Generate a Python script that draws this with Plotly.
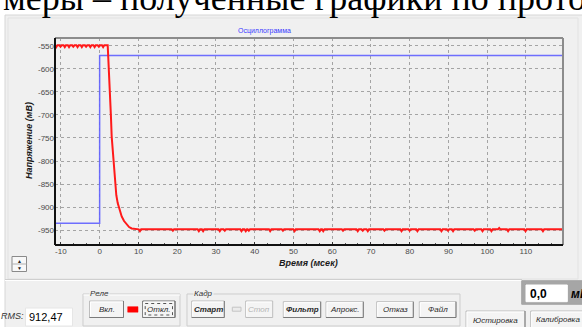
import plotly.graph_objects as go

# ---------------- data ----------------
x_ticks = [-10, 0, 10, 20, 30, 40, 50, 60, 70, 80, 90, 100, 110]
y_ticks = [-550, -600, -650, -700, -750, -800, -850, -900, -950]

blue_t = [-11.52, 0.0, 0.0, 119.57]
blue_v = [-935, -935, -571, -571]

red_pre_t = [-11.5, -11.2, -10.9, -10.4, -10.1, -9.8, -9.3, -9.0, -8.7, -8.2, -7.9, -7.6,
             -7.1, -6.8, -6.5, -6.0, -5.7, -5.4, -4.9, -4.6, -4.3, -3.8, -3.5, -3.2,
             -2.7, -2.4, -2.1, -1.6, -1.3, -1.0, -0.5, -0.2, 0.1, 0.6, 0.9, 1.2, 2.08]
red_pre_v = [-549, -553, -549, -549, -552, -549, -549, -553, -549, -549, -553, -549,
             -549, -552, -549, -549, -553, -549, -549, -553, -549, -549, -552, -549,
             -549, -553, -549, -549, -553, -549, -549, -552, -549, -549, -553, -549, -549]

red_fall_t = [2.35, 2.67, 2.9, 3.11, 3.52, 3.96, 4.3, 4.66, 5.1, 5.69, 6.3, 6.98, 7.6, 8.27, 9.1, 9.97]
red_fall_v = [-592, -646, -700, -747, -798, -848, -874, -891, -906, -920, -930, -938, -943, -946, -947, -948]

red_tail_t = [10.1, 10.4, 10.7, 18.6, 18.9, 19.2, 25.3, 25.6, 25.9, 26.4, 26.7, 27.0,
              30.7, 31.0, 31.3, 32.0, 32.3, 32.6, 36.3, 36.6, 36.9, 37.4, 37.7, 38.0,
              38.2, 38.5, 38.8, 43.7, 44.0, 44.3, 47.0, 47.3, 47.6, 50.0, 50.3, 50.6,
              56.5, 56.8, 57.1, 57.4, 57.7, 58.0, 62.5, 62.8, 63.1, 66.3, 66.6, 66.9,
              67.6, 67.9, 68.2, 68.9, 69.2, 69.5, 73.2, 73.5, 73.8, 77.6, 77.9, 78.2,
              79.7, 80.0, 80.3, 81.7, 82.0, 82.3, 87.9, 88.2, 88.5, 89.6, 89.9, 90.2,
              90.9, 91.2, 91.5, 96.5, 96.8, 97.1, 98.5, 98.8, 99.1, 100.8, 101.1, 101.4,
              102.8, 103.1, 103.4, 105.1, 105.4, 105.7, 109.6, 109.9, 110.2, 114.1, 114.4, 114.7,
              119.6]
red_tail_v = [-948, -952, -948, -948, -951, -948, -948, -952, -948, -948, -952, -948,
              -948, -952, -948, -948, -951, -948, -948, -952, -948, -948, -952, -948,
              -948, -951, -948, -948, -952, -948, -948, -951, -948, -948, -952, -948,
              -948, -952, -948, -948, -952, -948, -948, -951, -948, -948, -952, -948,
              -948, -951, -948, -948, -952, -948, -948, -951, -948, -948, -952, -948,
              -948, -951, -948, -948, -952, -948, -948, -952, -948, -948, -951, -948,
              -948, -952, -948, -948, -951, -948, -948, -952, -948, -948, -952, -948,
              -948, -945, -948, -948, -952, -948, -948, -952, -948, -948, -952, -948,
              -948]

red_t = red_pre_t + red_fall_t + red_tail_t
red_v = red_pre_v + red_fall_v + red_tail_v

# ---------------- geometry helpers (pixel -> paper) ----------------
W, H = 582, 327
L, R, T, B = 55, 563, 38, 245


def px(x):
    return (x - L) / (R - L)


def py(y):
    return (B - y) / (B - T)


shapes = []
annots = []


def rect(x0, y0, x1, y1, fill="rgba(0,0,0,0)", line="rgba(0,0,0,0)", lw=1, dash="solid", layer="above"):
    shapes.append(dict(type="rect", xref="paper", yref="paper",
                       x0=px(x0), x1=px(x1), y0=py(y0), y1=py(y1),
                       fillcolor=fill, line=dict(color=line, width=lw, dash=dash), layer=layer))


def seg(x0, y0, x1, y1, color, lw=1, layer="above"):
    shapes.append(dict(type="line", xref="paper", yref="paper",
                       x0=px(x0), x1=px(x1), y0=py(y0), y1=py(y1),
                       line=dict(color=color, width=lw), layer=layer))


def text(x, y, s, size=8, color="#333333", xanchor="center", bold=False, italic=False,
         family="Liberation Sans", angle=0, bg="rgba(0,0,0,0)"):
    annots.append(dict(x=px(x), y=py(y), xref="paper", yref="paper", text=s, showarrow=False,
                       xanchor=xanchor, yanchor="middle", textangle=angle, bgcolor=bg, borderpad=0,
                       font=dict(size=size, color=color, family=family,
                                 weight="bold" if bold else "normal",
                                 style="italic" if italic else "normal")))


def button(x0, y0, x1, y1, label, color="#2a2a2a", pressed=False, disabled=False, bold=False):
    rect(x0, y0, x1, y1, fill="#f4f4f4", line="#bdbdbd" if not pressed else "#6a6a6a")
    if not disabled:
        seg(x0, y1, x1, y1, "#7a7a7a")
        seg(x1, y0, x1, y1, "#7a7a7a")
    seg(x0 + 1, y0 + 1, x1 - 1, y0 + 1, "#ffffff")
    seg(x0 + 1, y0 + 1, x0 + 1, y1 - 1, "#ffffff")
    if pressed:
        rect(x0 + 2.5, y0 + 2.5, x1 - 2.5, y1 - 2.5, line="#555555", lw=1, dash="dot")
    text((x0 + x1) / 2, (y0 + y1) / 2, label, size=8, color=color, italic=True, bold=bold)


# ---------------- background panel ----------------
rect(5, 15, 590, 340, fill="#f0f0f0", line="#d6d6d6", layer="below")
rect(8, 18, 578, 279, line="#e2e2e2", layer="below")
seg(5, 279.5, 522, 279.5, "#cfcfcf", layer="below")
seg(5, 280.5, 522, 280.5, "#ffffff", layer="below")

# document text cropped at the top
text(2, -2.5, "меры – полученные графики по прото", size=36, color="#000000",
     xanchor="left", family="Liberation Serif")

# plot frame
seg(L, T, R, T, "#8c8c8c", 2)
seg(R, T, R, B, "#8c8c8c", 2)
seg(L, T, L, B, "#111111", 2)
seg(L, B, R, B, "#111111", 2)

# chart title / axis titles
text(264, 31, "Осциллограмма", size=7, color="#3a3aff")
text(308, 263, "Время (мсек)", size=9, color="#1a1a1a", bold=True, italic=True)
text(29, 141, "Напряжение (мВ)", size=9, color="#1a1a1a", bold=True, italic=True, angle=-90)

# spin buttons
rect(12, 256.5, 26.5, 271.5, fill="#f8f8f8", line="#8a8a8a")
seg(12, 264, 26.5, 264, "#b0b0b0")
text(19.3, 260.5, "▲", size=5, color="#222222")
text(19.3, 267.8, "▼", size=5, color="#222222")

# RMS field
text(25, 316, "RMS:", size=9, color="#333333", xanchor="right", italic=True)
rect(25.5, 308, 72.5, 326, fill="#ffffff", line="#e6e6e6")
text(27.5, 317, "912,47", size=11, color="#000000", xanchor="left")

# group boxes
rect(83, 294, 180, 326, line="#cdcdcd")
seg(83.5, 295, 180, 295, "#ffffff")
text(89, 293.5, "Реле", size=8, color="#333333", xanchor="left", italic=True, bg="#f0f0f0")
rect(187, 294, 460, 326, line="#cdcdcd")
text(192.5, 293.5, "Кадр", size=8, color="#333333", xanchor="left", italic=True, bg="#f0f0f0")

# relay buttons
button(89.5, 301, 123.5, 317.5, "Вкл.")
rect(127.7, 306.7, 138, 312.2, fill="#ff0000", line="#ff0000", lw=0.5)
button(142.7, 301, 175, 317.5, "Откл.", pressed=True)

# frame buttons
button(191.7, 301, 224.3, 317.5, "Старт", bold=True)
rect(232.3, 307.2, 241, 311.2, fill="#ebebeb", line="#c4c4c4")
button(245.7, 301, 272.7, 317.5, "Стоп", color="#b4b4b4", disabled=True)
button(283.3, 301.7, 320.7, 317.5, "Фильтр", bold=True)
button(326, 301.7, 363.3, 317.5, "Апрокс.")
button(376.7, 301.7, 413.3, 317.5, "Отказ")
button(419.3, 301.7, 456, 317.5, "Файл")

# value display
rect(521.7, 280.7, 600, 304.3, fill="#a6a6a6", line="#a6a6a6")
rect(526, 285, 567.3, 301.7, fill="#ffffff", line="#ffffff")
text(528.5, 293.5, "0,0", size=12, color="#000000", xanchor="left", bold=True)
text(569.5, 293.5, "мВ", size=12, color="#000000", xanchor="left", bold=True, italic=True)

# bottom right buttons
button(466, 311, 525, 330, "Юстировка")
button(530.7, 311, 600, 330, "")
text(535, 319.5, "Калибровка", size=8, color="#2a2a2a", xanchor="left", italic=True)

# ---------------- figure ----------------
fig = go.Figure()
fig.add_trace(go.Scatter(x=blue_t, y=blue_v, mode="lines",
                         line=dict(color="rgba(95,95,255,0.9)", width=1.5), hoverinfo="skip"))
fig.add_trace(go.Scatter(x=red_t, y=red_v, mode="lines",
                         line=dict(color="#ff1a1a", width=2), hoverinfo="skip"))

tick_font = dict(family="Liberation Sans", size=8, color="#4a4a4a")
fig.update_layout(
    width=W, height=H, autosize=False,
    margin=dict(l=L, r=W - R, t=T, b=H - B, pad=0),
    paper_bgcolor="#ffffff", plot_bgcolor="rgba(0,0,0,0)",
    showlegend=False,
    shapes=shapes, annotations=annots,
    xaxis=dict(range=[-11.52, 119.57], tickvals=x_ticks, ticktext=[str(v) for v in x_ticks],
               showgrid=True, gridcolor="#a4a4a4", griddash="dot", gridwidth=1,
               zeroline=False, showline=False, ticks="inside", ticklen=3, tickcolor="#333333",
               minor=dict(dtick=10 / 3, tick0=0, ticks="inside", ticklen=2, tickcolor="#555555", showgrid=False),
               tickfont=tick_font, fixedrange=True),
    yaxis=dict(range=[-981.9, -533.3], tickvals=y_ticks, ticktext=[str(v) for v in y_ticks],
               showgrid=True, gridcolor="#a4a4a4", griddash="dot", gridwidth=1,
               zeroline=False, showline=False, ticks="", tickfont=tick_font, fixedrange=True),
)

fig.write_html("out.html", config={"displayModeBar": False},
               post_script="document.body.style.margin='0';document.body.style.overflow='hidden';")
